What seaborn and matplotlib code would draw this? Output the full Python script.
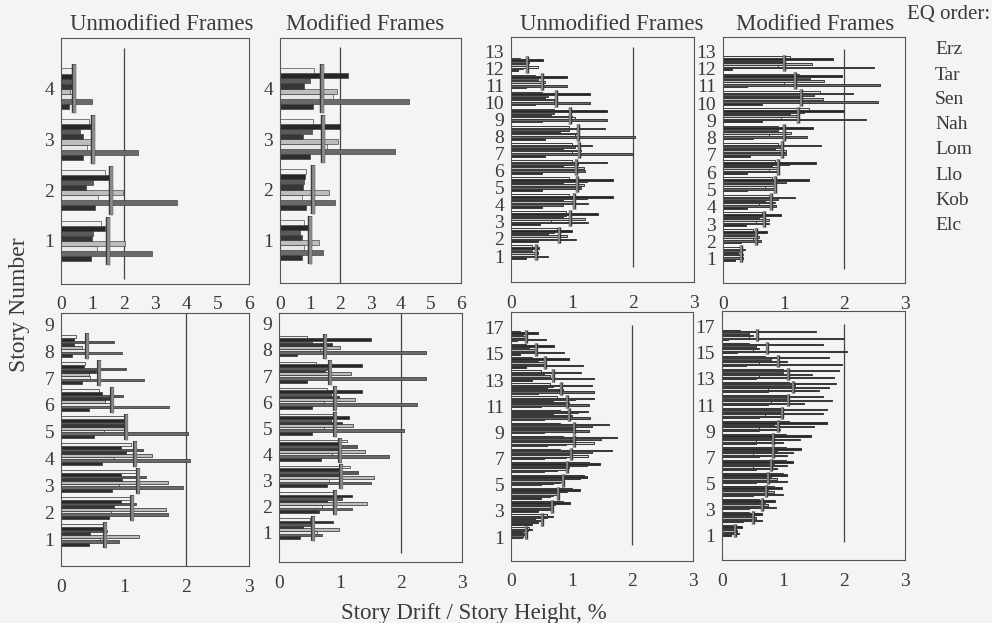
import numpy as np
import pandas as pd
import matplotlib
matplotlib.use("Agg")
import matplotlib.pyplot as plt
import matplotlib.patheffects as pe
import seaborn as sns

# ---------------- data ----------------
eq_order = ["Erz", "Tar", "Sen", "Nah", "Lom", "Llo", "Kob", "Elc"]
eq_colors = ["#f0f0f0", "#262626", "#5a5a5a", "#363636", "#bdbdbd", "#e6e6e6", "#6a6a6a", "#2e2e2e"]

titles = ["Unmodified Frames", "Modified Frames", "Unmodified Frames", "Modified Frames"]

# rows = stories (story 1 first), columns follow eq_order; drift in %
u4_drift = [
    [1.27, 1.40, 1.03, 0.98, 2.04, 1.14, 2.91, 0.96],
    [1.40, 1.54, 1.01, 0.80, 1.97, 1.19, 3.69, 1.09],
    [0.89, 0.95, 0.60, 0.71, 1.00, 0.82, 2.45, 0.71],
    [0.39, 0.34, 0.34, 0.34, 0.30, 0.39, 0.98, 0.26],
]
u4_mean = [1.49, 1.60, 1.03, 0.41]

m4_drift = [
    [0.81, 0.98, 0.67, 0.74, 1.28, 0.78, 1.41, 0.72],
    [0.87, 0.83, 0.78, 0.76, 1.61, 0.72, 1.83, 0.86],
    [1.11, 2.00, 1.05, 0.75, 1.91, 1.55, 3.80, 1.00],
    [1.14, 2.24, 1.00, 0.81, 1.89, 1.76, 4.28, 1.11],
]
m4_mean = [0.98, 1.11, 1.44, 1.39]

u13_drift = [
    [0.35, 0.46, 0.35, 0.30, 0.45, 0.40, 0.61, 0.25],
    [0.75, 1.00, 0.70, 0.60, 0.91, 0.80, 1.07, 0.45],
    [0.90, 1.43, 0.90, 0.85, 1.21, 0.65, 1.26, 0.48],
    [0.95, 1.67, 1.24, 0.85, 1.00, 1.27, 0.85, 0.50],
    [0.95, 1.68, 1.24, 0.85, 1.19, 1.05, 1.15, 0.50],
    [1.00, 1.57, 1.10, 0.85, 1.20, 1.00, 1.21, 0.50],
    [1.00, 1.33, 1.05, 0.85, 1.15, 1.00, 2.00, 0.55],
    [0.95, 1.54, 0.95, 0.80, 1.10, 1.05, 2.03, 0.55],
    [0.70, 1.57, 0.70, 0.65, 1.00, 1.05, 1.57, 0.50],
    [0.50, 1.30, 0.60, 0.55, 0.75, 0.70, 1.30, 0.40],
    [0.40, 0.92, 0.45, 0.35, 0.55, 0.50, 0.92, 0.25],
    [0.15, 0.52, 0.30, 0.20, 0.25, 0.45, 0.20, 0.12],
]
u13_mean = [0.41, 0.79, 0.97, 1.03, 1.08, 1.07, 1.12, 1.10, 0.96, 0.74, 0.50, 0.27]

m13_drift = [
    [0.30, 0.37, 0.28, 0.25, 0.33, 0.30, 0.33, 0.20],
    [0.50, 0.73, 0.55, 0.45, 0.60, 0.50, 0.62, 0.30],
    [0.65, 0.95, 0.70, 0.60, 0.75, 0.55, 0.75, 0.38],
    [0.75, 1.19, 0.90, 0.70, 0.85, 0.60, 0.88, 0.40],
    [0.80, 1.41, 1.04, 0.75, 0.88, 0.70, 0.88, 0.40],
    [0.85, 1.54, 1.08, 0.80, 0.92, 0.75, 0.92, 0.40],
    [0.90, 1.62, 0.95, 0.85, 1.04, 0.90, 1.04, 0.45],
    [0.90, 1.48, 0.90, 0.85, 1.12, 0.75, 1.38, 0.50],
    [1.41, 1.99, 1.33, 1.10, 1.25, 0.95, 2.36, 0.65],
    [1.60, 2.15, 1.50, 1.30, 1.65, 1.10, 2.55, 0.65],
    [1.25, 1.96, 1.43, 1.10, 1.67, 1.00, 2.58, 0.40],
    [1.10, 1.82, 0.95, 1.00, 1.47, 0.90, 2.49, 0.15],
]
m13_mean = [0.30, 0.55, 0.68, 0.79, 0.86, 0.90, 0.97, 1.01, 1.23, 1.29, 1.18, 1.00]

u9_drift = [
    [0.68, 0.68, 0.73, 0.47, 1.24, 0.63, 0.92, 0.44],
    [1.11, 0.95, 1.19, 0.84, 1.67, 0.79, 1.70, 0.76],
    [1.19, 0.95, 1.35, 0.97, 1.70, 0.92, 1.95, 0.81],
    [1.12, 0.95, 1.31, 1.03, 1.45, 0.84, 2.06, 0.65],
    [1.00, 1.00, 1.03, 1.03, 1.05, 0.68, 2.03, 0.52],
    [0.60, 0.65, 0.99, 0.79, 0.71, 0.79, 1.72, 0.44],
    [0.38, 0.36, 1.03, 0.56, 0.44, 0.47, 1.33, 0.33],
    [0.24, 0.20, 0.85, 0.20, 0.33, 0.41, 0.97, 0.17],
]
u9_mean = [0.71, 1.13, 1.23, 1.18, 1.03, 0.81, 0.61, 0.41]

m9_drift = [
    [0.51, 0.89, 0.57, 0.40, 0.99, 0.62, 0.71, 0.35],
    [0.93, 1.19, 1.04, 0.79, 1.44, 0.71, 1.19, 0.65],
    [1.17, 0.98, 1.29, 1.01, 1.55, 0.82, 1.51, 0.79],
    [1.12, 0.98, 1.28, 1.01, 1.41, 0.87, 1.81, 0.69],
    [0.89, 1.15, 0.85, 1.04, 1.22, 0.73, 2.05, 0.54],
    [0.79, 1.36, 0.85, 0.98, 1.25, 0.73, 2.27, 0.54],
    [0.60, 1.36, 0.79, 0.76, 1.18, 0.85, 2.41, 0.46],
    [0.46, 1.50, 0.54, 0.87, 1.00, 0.68, 2.41, 0.30],
]
m9_mean = [0.55, 0.91, 1.02, 1.00, 0.91, 0.91, 0.83, 0.76]

u17_drift = [
    [0.30, 0.34, 0.28, 0.20, 0.25, 0.22, 0.20, 0.18],
    [0.60, 0.70, 0.59, 0.40, 0.50, 0.45, 0.45, 0.35],
    [0.85, 0.97, 0.73, 0.50, 0.65, 0.60, 0.65, 0.45],
    [1.00, 1.14, 0.93, 0.55, 0.75, 0.70, 0.65, 0.50],
    [1.20, 1.25, 1.13, 0.60, 0.85, 0.80, 0.70, 0.50],
    [1.29, 1.46, 1.26, 0.65, 0.95, 0.90, 0.75, 0.55],
    [0.80, 1.66, 1.34, 0.60, 1.00, 1.27, 0.90, 0.55],
    [0.85, 1.74, 1.49, 0.75, 1.05, 1.36, 0.90, 0.60],
    [0.80, 1.62, 1.33, 0.75, 1.05, 0.95, 1.29, 0.55],
    [0.80, 1.27, 1.10, 0.70, 1.00, 0.90, 1.30, 0.55],
    [0.75, 1.37, 1.05, 0.70, 0.95, 0.90, 1.29, 0.50],
    [0.65, 1.33, 0.70, 0.60, 0.85, 0.75, 1.36, 0.45],
    [0.50, 1.16, 0.55, 0.50, 0.65, 0.60, 1.37, 0.35],
    [0.35, 0.96, 0.45, 0.40, 0.55, 0.50, 1.19, 0.25],
    [0.25, 0.71, 0.30, 0.25, 0.40, 0.35, 0.87, 0.15],
    [0.15, 0.45, 0.20, 0.15, 0.25, 0.20, 0.58, 0.10],
]
u17_mean = [0.25, 0.51, 0.67, 0.78, 0.85, 0.93, 0.99, 1.04, 1.04, 0.96, 0.93, 0.82, 0.70, 0.56, 0.41, 0.25]

m17_drift = [
    [0.20, 0.32, 0.20, 0.15, 0.25, 0.20, 0.28, 0.15],
    [0.45, 0.65, 0.50, 0.40, 0.55, 0.35, 0.66, 0.35],
    [0.60, 0.87, 0.70, 0.45, 0.75, 0.45, 0.88, 0.45],
    [0.85, 0.99, 0.75, 0.50, 0.85, 0.45, 1.00, 0.50],
    [1.00, 1.07, 0.80, 0.55, 0.90, 0.50, 1.06, 0.55],
    [1.05, 1.17, 0.85, 0.60, 1.07, 0.50, 0.90, 0.55],
    [1.05, 1.29, 0.90, 0.65, 1.17, 0.50, 1.07, 0.60],
    [1.05, 1.46, 0.80, 0.70, 1.28, 0.55, 1.00, 0.55],
    [1.10, 1.72, 0.85, 0.80, 1.51, 0.60, 0.95, 0.60],
    [1.00, 1.72, 0.95, 0.80, 1.65, 0.70, 1.00, 0.60],
    [1.10, 1.65, 1.05, 0.90, 1.80, 0.80, 1.35, 0.75],
    [1.10, 1.87, 1.20, 1.00, 1.76, 0.75, 1.59, 0.75],
    [1.00, 1.91, 1.00, 0.90, 1.48, 0.60, 1.83, 0.55],
    [0.70, 1.75, 0.80, 0.55, 1.07, 0.60, 1.97, 0.40],
    [0.45, 1.65, 0.55, 0.30, 0.60, 0.50, 2.05, 0.25],
    [0.30, 1.54, 0.45, 0.20, 0.50, 0.45, 2.00, 0.10],
]
m17_mean = [0.22, 0.50, 0.65, 0.72, 0.76, 0.80, 0.83, 0.84, 0.92, 0.98, 1.09, 1.16, 1.08, 0.91, 0.73, 0.58]

limit_drift = 2  # reference line value

# ---------------- style / layout ----------------
sns.set_style("white")
plt.rcParams["font.family"] = ["Liberation Serif", "DejaVu Serif"]
TXT = "#3a3a3a"
BG = "#f4f4f4"

W, H = 992, 623
fig = plt.figure(figsize=(W / 100, H / 100), dpi=100, facecolor=BG)


def rect(l, r, t, b):
    return [l / W, 1 - b / H, (r - l) / W, (b - t) / H]


panels = [
    dict(d=u4_drift, m=u4_mean, r=rect(61, 249, 38, 284), xl=(0, 6), xt=range(0, 7),
         yl=(0.15, 5.0), yt=range(1, 5), off=0.0, vl=(0.25, 4.8), lw=0.45, mw=2.0),
    dict(d=m4_drift, m=m4_mean, r=rect(280, 461, 38, 283), xl=(0, 6), xt=range(0, 7),
         yl=(0.15, 5.0), yt=range(1, 5), off=0.0, vl=(0.15, 4.82), lw=0.45, mw=2.0),
    dict(d=u13_drift, m=u13_mean, r=rect(511, 694, 37, 282), xl=(0, 3), xt=range(0, 4),
         yl=(-0.52, 13.82), yt=range(1, 14), off=0.22, vl=(0.36, 13.23), lw=0.7, mw=1.3),
    dict(d=m13_drift, m=m13_mean, r=rect(723, 905, 37, 283), xl=(0, 3), xt=range(0, 4),
         yl=(-0.39, 13.81), yt=range(1, 14), off=0.3, vl=(0.42, 13.1), lw=0.7, mw=1.3),
    dict(d=u9_drift, m=u9_mean, r=rect(61, 249, 313, 566), xl=(0, 3), xt=range(0, 4),
         yl=(0.03, 9.41), yt=range(1, 10), off=0.18, vl=(0.03, 9.41), lw=0.55, mw=1.8),
    dict(d=m9_drift, m=m9_mean, r=rect(279, 462, 313, 562), xl=(0, 3), xt=range(0, 4),
         yl=(-0.14, 9.42), yt=range(1, 10), off=0.15, vl=(0.2, 9.42), lw=0.55, mw=1.8),
    dict(d=u17_drift, m=u17_mean, r=rect(511, 693, 312, 561), xl=(0, 3), xt=range(0, 4),
         yl=(-0.82, 18.2), yt=range(1, 18, 2), off=0.35, vl=(0.39, 17.2), lw=0.75, mw=1.2),
    dict(d=m17_drift, m=m17_mean, r=rect(722, 905, 311, 560), xl=(0, 3), xt=range(0, 4),
         yl=(-0.9, 18.22), yt=range(1, 18, 2), off=0.38, vl=(0.47, 17.23), lw=0.75, mw=1.2),
]

pal = dict(zip(eq_order, eq_colors))

for p in panels:
    ax = fig.add_axes(p["r"])
    ax.set_facecolor(BG)
    n = len(p["d"])
    stories = np.arange(1, n + 1)
    df = pd.DataFrame(p["d"], columns=eq_order)
    df["pos"] = stories + p["off"]
    long = df.melt(id_vars="pos", var_name="EQ", value_name="drift")
    sns.barplot(data=long, x="drift", y="pos", hue="EQ", hue_order=eq_order[::-1],
                palette=pal, orient="h", native_scale=True, width=0.8,
                errorbar=None, edgecolor="#3a3a3a", linewidth=p["lw"],
                legend=False, ax=ax)
    # reference line at 2 %
    ax.vlines(limit_drift, p["vl"][0], p["vl"][1], colors="#444444", linewidth=0.9, zorder=0.5)
    # mean lines
    pos = stories + p["off"]
    ax.vlines(p["m"], pos - 0.48, pos + 0.48, colors="#8c8c8c", linewidth=p["mw"], zorder=5,
              path_effects=[pe.Stroke(linewidth=p["mw"] + 1.2, foreground="#3a3a3a"), pe.Normal()])
    ax.set_xlim(*p["xl"])
    ax.set_ylim(*p["yl"])
    ax.set_xticks(list(p["xt"]))
    ax.set_yticks(list(p["yt"]))
    ax.set_yticklabels([str(v) for v in p["yt"]])
    ax.set_xlabel("")
    ax.set_ylabel("")
    ax.tick_params(axis="x", direction="in", length=3, width=0.6, color="#555555",
                   labelsize=14, labelcolor=TXT, pad=9)
    ax.tick_params(axis="y", length=0, labelsize=14, labelcolor=TXT, pad=5)
    for s in ax.spines.values():
        s.set_color("#555555")
        s.set_linewidth(0.8)

# titles
title_x = [162, 365, 612, 815]
for t, x in zip(titles, title_x):
    fig.text(x / W, 1 - 24 / H, t, ha="center", va="center", fontsize=16.5, color=TXT)

# legend (EQ order)
fig.text(949 / W, 1 - 15 / H, "EQ order:", ha="center", va="center", fontsize=15, color=TXT)
leg_y = [50, 75, 100, 125, 150, 175, 200, 226]
for name, y in zip(eq_order, leg_y):
    fig.text(935 / W, 1 - y / H, name, ha="left", va="center", fontsize=14, color=TXT)

# axis labels
fig.text(474 / W, 1 - 613 / H, "Story Drift / Story Height, %", ha="center", va="center",
         fontsize=16.5, color=TXT)
fig.text(20 / W, 1 - 305 / H, "Story Number", ha="center", va="center", rotation=90,
         fontsize=17, color=TXT)

fig.savefig("out.png", dpi=100, facecolor=BG)
